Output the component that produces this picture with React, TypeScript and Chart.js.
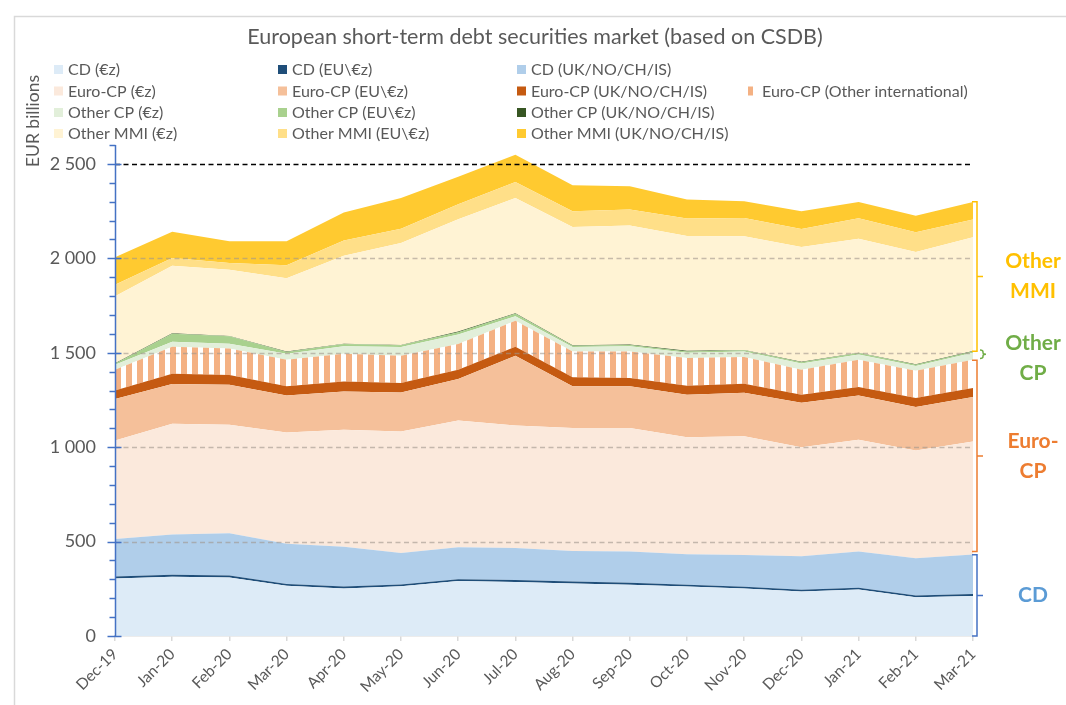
import React, { useEffect, useRef } from 'react';
import { Chart, registerables } from 'chart.js';

Chart.register(...registerables);

// ---------- data ----------
const months = ['Dec-19', 'Jan-20', 'Feb-20', 'Mar-20', 'Apr-20', 'May-20', 'Jun-20', 'Jul-20', 'Aug-20', 'Sep-20', 'Oct-20', 'Nov-20', 'Dec-20', 'Jan-21', 'Feb-21', 'Mar-21'];

const cdEz = [305, 314, 310, 266, 252, 263, 291, 286, 278, 272, 262, 251, 235, 246, 205, 212];
const cdEu = [10, 10, 10, 10, 10, 10, 10, 10, 10, 10, 10, 10, 10, 10, 10, 10];
const cdUk = [199, 213, 224, 213, 211, 167, 169, 170, 162, 165, 161, 168, 177, 191, 197, 209];

const euroCpEz = [521, 587, 574, 589, 619, 643, 671, 649, 651, 654, 620, 629, 578, 592, 570, 599];
const euroCpEu = [220, 210, 213, 196, 203, 207, 220, 369, 222, 222, 224, 230, 235, 235, 230, 235];
const euroCpUk = [45, 55, 51, 48, 52, 50, 49, 48, 47, 43, 48, 48, 43, 44, 48, 48];
const euroCpOther = [110, 143, 141, 141, 148, 144, 136, 138, 137, 141, 147, 141, 132, 145, 145, 150];

const otherCpEz = [27, 26, 25, 32, 39, 46, 50, 23, 23, 27, 28, 29, 33, 28, 25, 37];
const otherCpEu = [5, 43, 39, 9, 12, 9, 12, 14, 7, 7, 7, 7, 7, 7, 7, 7];
const otherCpUk = [2, 2, 2, 2, 2, 2, 4, 2, 2, 3, 3, 2, 2, 2, 2, 2];

const otherMmiEz = [355, 358, 351, 388, 466, 540, 595, 611, 627, 630, 608, 602, 608, 604, 595, 602];
const otherMmiEu = [61, 41, 35, 69, 80, 76, 79, 84, 83, 85, 93, 97, 95, 108, 104, 94];
const otherMmiUk = [145, 138, 115, 127, 148, 163, 146, 145, 138, 123, 101, 88, 94, 86, 88, 93];

const seriesLabels = [
  'CD (€z)', 'CD (EU\\€z)', 'CD (UK/NO/CH/IS)',
  'Euro-CP (€z)', 'Euro-CP (EU\\€z)', 'Euro-CP (UK/NO/CH/IS)', 'Euro-CP (Other international)',
  'Other CP (€z)', 'Other CP (EU\\€z)', 'Other CP (UK/NO/CH/IS)',
  'Other MMI (€z)', 'Other MMI (EU\\€z)', 'Other MMI (UK/NO/CH/IS)',
];
const seriesData = [cdEz, cdEu, cdUk, euroCpEz, euroCpEu, euroCpUk, euroCpOther, otherCpEz, otherCpEu, otherCpUk, otherMmiEz, otherMmiEu, otherMmiUk];
const seriesColors = [
  '#DDEBF7', '#1F4E79', '#B0CEEA',
  '#FBE9DC', '#F5C09A', '#C55A11', '#F4B183',
  '#E2EFDA', '#A9D18E', '#375623',
  '#FFF3D4', '#FFDF88', '#FFCA30',
];
// legend grid: rows of series indices (-1 = empty)
const legendRows = [
  [0, 1, 2, -1],
  [3, 4, 5, 6],
  [7, 8, 9, -1],
  [10, 11, 12, -1],
];

const yTicksMajor = [0, 500, 1000, 1500, 2000, 2500];
const yMax = 2600;

const groupBrackets = [
  { label: ['Other', 'MMI'], from: 1508, to: 2300, color: '#FFC000' },
  { label: ['Euro-', 'CP'], from: 447, to: 1460, color: '#ED7D31' },
  { label: ['CD'], from: 0, to: 430, color: '#4472C4', textColor: '#5B9BD5' },
];

const TITLE = 'European short-term debt securities market (based on CSDB)';
const Y_TITLE = 'EUR billions';

const FONT = 'Lato, "Open Sans", sans-serif';
const GREY = '#595959';

function fmt(v: number): string {
  if (v >= 1000) return `${Math.floor(v / 1000)} ${String(v % 1000).padStart(3, '0')}`;
  return String(v);
}

function stripePattern(): CanvasPattern | string {
  const c = document.createElement('canvas');
  c.width = 11;
  c.height = 4;
  const x = c.getContext('2d');
  if (!x) return '#F4B183';
  x.fillStyle = '#FFFFFF';
  x.fillRect(0, 0, 11, 4);
  x.fillStyle = '#F4B183';
  x.fillRect(5, 0, 6, 4);
  return x.createPattern(c, 'repeat') || '#F4B183';
}

const decor = {
  id: 'decor',
  beforeDraw(chart: any) {
    const { ctx, width, height } = chart;
    ctx.save();
    ctx.fillStyle = '#FFFFFF';
    ctx.fillRect(0, 0, width, height);
    ctx.strokeStyle = '#D9D9D9';
    ctx.lineWidth = 1.5;
    ctx.strokeRect(14.5, 16.5, width + 50, height + 50);
    ctx.restore();
  },
  afterDatasetsDraw(chart: any) {
    const { ctx, chartArea: ca, scales } = chart;
    const ys = scales.y;
    ctx.save();
    // gridlines
    ctx.lineWidth = 1.3;
    ctx.setLineDash([5, 3.5]);
    for (const v of yTicksMajor) {
      if (v === 0) continue;
      const py = Math.round(ys.getPixelForValue(v)) + 0.5;
      ctx.strokeStyle = v === 2500 ? '#000000' : 'rgba(160,150,140,0.6)';
      ctx.beginPath();
      ctx.moveTo(ca.left, py);
      ctx.lineTo(ca.right, py);
      ctx.stroke();
    }
    ctx.setLineDash([]);
    // y axis line + ticks
    ctx.strokeStyle = '#4472C4';
    ctx.lineWidth = 1.5;
    const ax = ca.left + 0.5;
    ctx.beginPath();
    ctx.moveTo(ax, ys.getPixelForValue(0));
    ctx.lineTo(ax, ys.getPixelForValue(yMax));
    ctx.stroke();
    for (let v = 0; v <= yMax; v += 100) {
      const py = Math.round(ys.getPixelForValue(v)) + 0.5;
      ctx.beginPath();
      if (v % 500 === 0) {
        ctx.moveTo(ax - 8, py);
        ctx.lineTo(ax + 6, py);
      } else {
        ctx.moveTo(ax - 6, py);
        ctx.lineTo(ax, py);
      }
      ctx.stroke();
    }
    // brackets
    const bx = ca.right + 4;
    for (const b of groupBrackets) {
      const t = ys.getPixelForValue(b.to);
      const bt = ys.getPixelForValue(b.from);
      const m = (t + bt) / 2;
      ctx.strokeStyle = b.color;
      ctx.lineWidth = 1.5;
      ctx.beginPath();
      ctx.moveTo(bx - 5, t);
      ctx.lineTo(bx, t);
      ctx.lineTo(bx, bt);
      ctx.lineTo(bx - 5, bt);
      ctx.moveTo(bx, m);
      ctx.lineTo(bx + 6, m);
      ctx.stroke();
      ctx.fillStyle = (b as any).textColor || b.color;
      ctx.font = `bold 21px ${FONT}`;
      ctx.textAlign = 'center';
      ctx.textBaseline = 'middle';
      const lh = 30;
      const y0 = m - ((b.label.length - 1) * lh) / 2;
      b.label.forEach((s, i) => ctx.fillText(s, 1033, y0 + i * lh));
    }
    // small Other CP brace
    {
      const t = ys.getPixelForValue(1515);
      const bt = ys.getPixelForValue(1470);
      const m = (t + bt) / 2;
      ctx.strokeStyle = '#70AD47';
      ctx.lineWidth = 1.5;
      ctx.beginPath();
      ctx.moveTo(bx + 3, t);
      ctx.quadraticCurveTo(bx + 6, t, bx + 6, t + 2);
      ctx.lineTo(bx + 6, m - 1.5);
      ctx.quadraticCurveTo(bx + 6, m, bx + 9, m);
      ctx.quadraticCurveTo(bx + 6, m, bx + 6, m + 1.5);
      ctx.lineTo(bx + 6, bt - 2);
      ctx.quadraticCurveTo(bx + 6, bt, bx + 3, bt);
      ctx.stroke();
      ctx.fillStyle = '#70AD47';
      ctx.font = `bold 21px ${FONT}`;
      ctx.textAlign = 'center';
      ctx.textBaseline = 'middle';
      ctx.fillText('Other', 1033, m - 11);
      ctx.fillText('CP', 1033, m + 19);
    }
    ctx.restore();
  },
  afterDraw(chart: any) {
    const { ctx } = chart;
    ctx.save();
    // title
    ctx.fillStyle = GREY;
    ctx.font = `21.5px ${FONT}`;
    ctx.textAlign = 'center';
    ctx.textBaseline = 'middle';
    ctx.fillText(TITLE, 535, 37);
    // y title
    ctx.save();
    ctx.translate(33, 121);
    ctx.rotate(-Math.PI / 2);
    ctx.font = `17.5px ${FONT}`;
    ctx.fillText(Y_TITLE, 0, 0);
    ctx.restore();
    // legend
    const colX = [54, 278, 517, 748];
    const rowY = [69.5, 91, 112.5, 133.5];
    ctx.font = `16px ${FONT}`;
    ctx.textAlign = 'left';
    ctx.textBaseline = 'middle';
    legendRows.forEach((row, r) => {
      row.forEach((si, c) => {
        if (si < 0) return;
        const x = colX[c];
        const y = rowY[r];
        ctx.fillStyle = seriesColors[si];
        const w = si === 6 ? 5 : 9;
        ctx.fillRect(x, y - 4.5, w, 9);
        ctx.fillStyle = GREY;
        ctx.fillText(seriesLabels[si], x + 14, y + 0.5);
      });
    });
    ctx.restore();
  },
};

export default function App() {
  const ref = useRef<HTMLCanvasElement | null>(null);
  useEffect(() => {
    if (!ref.current) return;
    const pattern = stripePattern();
    const datasets = seriesData.map((d, i) => ({
      label: seriesLabels[i],
      data: d,
      backgroundColor: i === 6 ? pattern : seriesColors[i],
      borderColor: 'rgba(0,0,0,0)',
      borderWidth: 0,
      pointRadius: 0,
      pointHoverRadius: 0,
      tension: 0,
      fill: i === 0 ? 'origin' : '-1',
    }));
    const chart = new Chart(ref.current, {
      type: 'line',
      data: { labels: months, datasets: datasets as any },
      plugins: [decor],
      options: {
        responsive: false,
        animation: false,
        devicePixelRatio: 1,
        layout: { padding: { left: 0, right: 93, top: 145, bottom: 0 } },
        plugins: {
          legend: { display: false },
          tooltip: { enabled: false },
          title: { display: false },
        },
        scales: {
          x: {
            offset: false,
            grid: { display: true, drawOnChartArea: false, drawTicks: true, tickLength: 5, color: '#D9D9D9', lineWidth: 1.5 },
            border: { display: true, color: '#D9D9D9', width: 1.5 },
            ticks: { maxRotation: 45, minRotation: 45, autoSkip: false, padding: 4, color: GREY, font: { family: FONT, size: 15.5 } },
            afterFit: (s: any) => { s.height = 69; },
          },
          y: {
            stacked: true,
            min: 0,
            max: yMax,
            grid: { display: false, drawTicks: false },
            border: { display: false },
            ticks: {
              stepSize: 100,
              autoSkip: false,
              padding: 19,
              color: GREY,
              font: { family: FONT, size: 18 },
              callback: (v: any) => (Number(v) % 500 === 0 ? fmt(Number(v)) : ''),
            },
            afterFit: (s: any) => { s.width = 115; },
          },
        },
      } as any,
    });
    return () => chart.destroy();
  }, []);
  return (
    <div style={{ position: 'fixed', left: 0, top: 0, width: 1066, height: 705, background: '#fff' }}>
      <canvas ref={ref} width={1066} height={705} style={{ display: 'block', width: 1066, height: 705 }} />
    </div>
  );
}
